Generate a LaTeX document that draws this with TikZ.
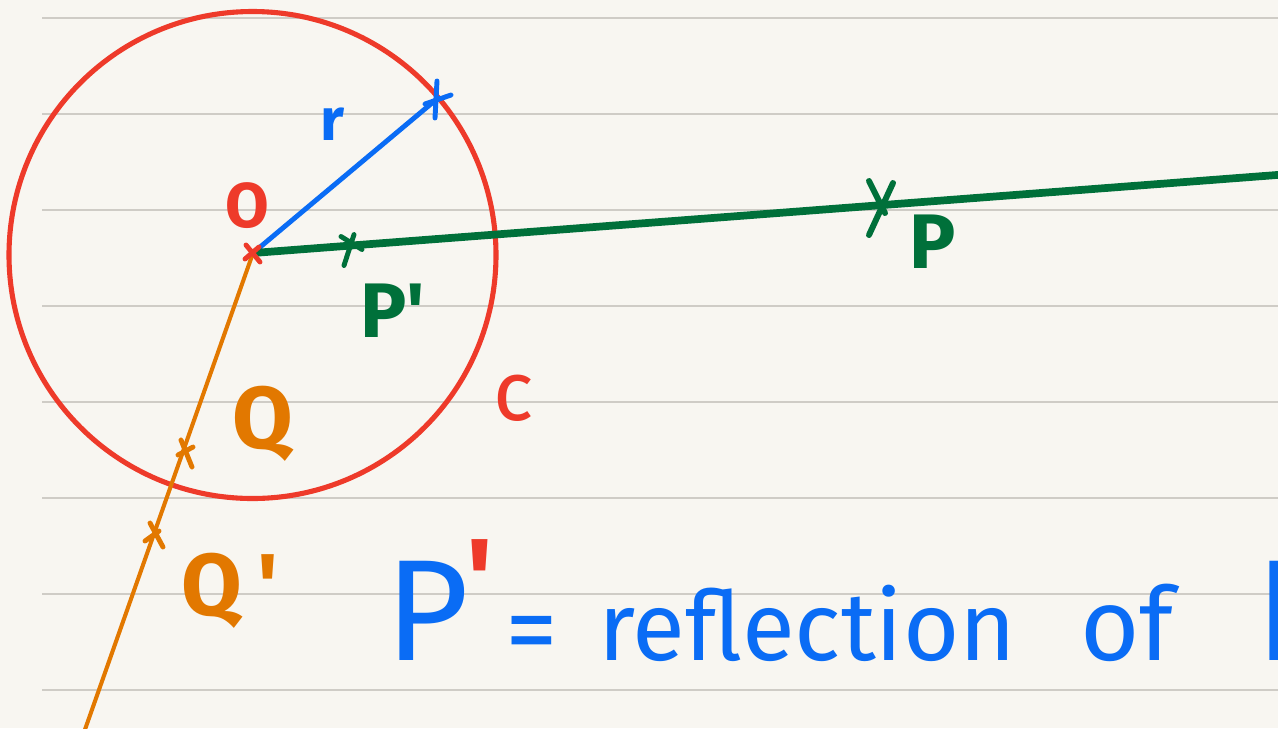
\documentclass[tikz,border=0pt]{standalone}
\usepackage{fontspec}
\setmainfont{Fira Sans}
\usetikzlibrary{calc}
\definecolor{paper}{HTML}{F8F6F1}
\definecolor{rulecol}{HTML}{CFCCC6}
\definecolor{cred}{HTML}{EE3A2A}
\definecolor{cblue}{HTML}{0A6CF5}
\definecolor{cgreen}{HTML}{00703A}
\definecolor{corange}{HTML}{E27800}
\newcommand{\qs}{\textquotesingle}
\tikzset{
  ruling/.style={draw=rulecol, line width=0.8pt},
  circ/.style={draw=cred, line width=2.9pt},
  radius line/.style={draw=cblue, line width=2.8pt, line cap=round},
  gline/.style={draw=cgreen, line width=4.4pt},
  oline/.style={draw=corange, line width=2.3pt},
  xmark/.style={line width=2.8pt, line cap=round},
  lbl/.style={inner sep=0pt, anchor=base},
}
\begin{document}
\begin{tikzpicture}[x=0.02cm, y=-0.02cm]
\clip (0,0) rectangle (1278,728);
\fill[paper] (0,0) rectangle (1278,728);
% ruled lines
\foreach \yy in {18,114,210,306,402,498,594,690}
  \draw[ruling] (42,\yy) -- (1278,\yy);
% points
\coordinate (O) at (253,253);
\coordinate (R) at (438,98);
\coordinate (Gend) at (1290,174);
\coordinate (Oend) at (82,738);
\coordinate (P) at (880,205);
\coordinate (Pp) at (350,245.5);
\coordinate (Q) at (184,450);
\coordinate (Qp) at (153,535);
% circle C
\draw[circ] (252.5,255) circle (243.5);
% lines
\draw[oline] (O) -- (Oend);
\draw[radius line] (O) -- (R);
\draw[gline] (O) -- (Gend);
% marks
\draw[xmark, cred] ($(O)+(-7,-8)$) -- ($(O)+(7,9)$) ($(O)+(-8,6)$) -- ($(O)+(6,-6)$);
\draw[xmark, cblue] ($(R)+(-1,-17)$) -- ($(R)+(-3,20)$) ($(R)+(-13,6)$) -- ($(R)+(13,-3)$);
\draw[xmark, cgreen, line width=3.4pt] ($(P)+(-11,-24)$) -- ($(P)+(5,8)$) ($(P)+(13,-22)$) -- ($(P)+(-11,30)$);
\draw[xmark, cgreen] ($(Pp)+(-9,-9)$) -- ($(Pp)+(12,4)$) ($(Pp)+(4,-11)$) -- ($(Pp)+(-6,20)$);
\draw[xmark, corange] ($(Q)+(-3,-10)$) -- ($(Q)+(8,17)$) ($(Q)+(-6,5)$) -- ($(Q)+(9,-3)$);
\draw[xmark, corange] ($(Qp)+(-3,-12)$) -- ($(Qp)+(10,12)$) ($(Qp)+(-8,6)$) -- ($(Qp)+(6,-4)$);
% labels
\node[lbl, text=cblue, font=\fontsize{34}{34}\selectfont\bfseries] (lr) at (332,140) {r};
\node[lbl, text=cred, font=\fontsize{36}{36}\selectfont\bfseries] (lO) at (247,227) {O};
\node[lbl, text=cgreen, font=\fontsize{44}{44}\selectfont\bfseries] (lP) at (933,268) {P};
\node[lbl, text=cgreen, font=\fontsize{44}{44}\selectfont\bfseries] (lPp) at (393,337) {P\qs};
\node[lbl, text=corange, font=\fontsize{50}{50}\selectfont\bfseries] (lQ) at (263,448) {Q};
\node[lbl, text=corange, font=\fontsize{50}{50}\selectfont\bfseries] (lQp) at (230,615) {Q\,\qs};
\node[lbl, text=cred, font=\fontsize{48}{48}\selectfont] (lC) at (514,420) {c};
% bottom sentence
\node[lbl, anchor=base west, text=cblue, font=\fontsize{82}{82}\selectfont] (sP) at (385,660) {P};
\node[lbl, anchor=base west, text=cred, font=\fontsize{64}{64}\selectfont\bfseries] (sprime) at (466,617) {\qs};
\node[lbl, anchor=base west, text=cblue, font=\fontsize{60}{60}\selectfont] (seq) at (505,665) {=};
\node[lbl, anchor=base west, text=cblue, font=\fontsize{55}{55}\selectfont] (srefl) at (598,660) {reflection};
\node[lbl, anchor=base west, text=cblue, font=\fontsize{58}{58}\selectfont] (sof) at (1080,660) {of};
\node[lbl, anchor=base west, text=cblue, font=\fontsize{82}{82}\selectfont] (sP2) at (1255,660) {P};
\end{tikzpicture}
\end{document}
